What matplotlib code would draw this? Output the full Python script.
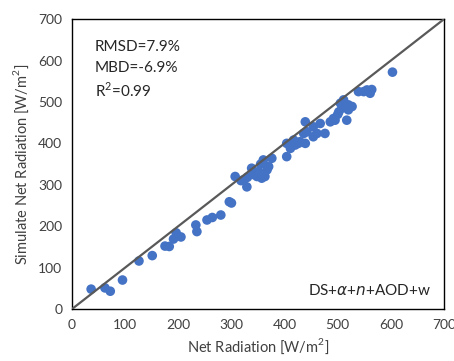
import matplotlib
matplotlib.use("Agg")
import matplotlib.pyplot as plt

# Measured vs simulated net radiation (W/m^2)
measured = [36, 62, 72, 95, 126, 151, 175, 183, 191, 196, 205, 233, 235, 254, 264,
            280, 296, 300, 307, 323, 329, 338, 348, 351, 360, 363, 370, 376, 367,
            357, 345, 330, 318, 355, 340, 404, 411, 420, 429, 436, 439, 439, 454,
            461, 467, 476, 486, 495, 502, 505, 511, 517, 520, 527, 539, 555, 549,
            561, 564, 603, 404, 417, 426, 442, 454, 492, 508, 520, 510, 500]
simulated = [48, 51, 43, 70, 116, 129, 152, 151, 169, 184, 174, 203, 187, 215, 221,
             227, 259, 256, 320, 312, 295, 340, 320, 332, 360, 320, 344, 364, 336,
             316, 328, 318, 310, 350, 325, 368, 388, 396, 404, 424, 400, 452, 440,
             424, 448, 424, 452, 456, 476, 497, 505, 456, 481, 489, 525, 529, 525,
             521, 530, 572, 400, 408, 400, 428, 416, 460, 485, 493, 490, 470]

ticks = [0, 100, 200, 300, 400, 500, 600, 700]
stats_lines = ["RMSD=7.9%", "MBD=-6.9%", "R$^2$=0.99"]
model_label = r"DS+$\alpha$+$n$+AOD+w"

plt.rcParams["font.family"] = ["Lato", "DejaVu Sans"]
plt.rcParams["mathtext.fontset"] = "custom"
plt.rcParams["mathtext.rm"] = "Lato"

fig = plt.figure(figsize=(4.54, 3.61), dpi=100)
ax = fig.add_axes([0.1586, 0.144, 0.8194, 0.803])

ax.plot([0, 700], [0, 700], color="#595959", lw=1.6, zorder=3)
ax.scatter(measured, simulated, s=48, color="#4472C4", edgecolors="none", zorder=2)

ax.set_xlim(0, 700)
ax.set_ylim(0, 700)
ax.set_xticks(ticks)
ax.set_yticks(ticks)
ax.tick_params(length=0, labelsize=10, colors="#404040", pad=7)
for s in ax.spines.values():
    s.set_color("black")
    s.set_linewidth(1.0)

ax.set_xlabel("Net Radiation [W/m$^2$]", fontsize=10.5, color="#404040", labelpad=4)
ax.set_ylabel("Simulate Net Radiation [W/m$^2$]", fontsize=10.5, color="#404040", labelpad=5)

for i, line in enumerate(stats_lines):
    ax.text(0.062, 0.905 - i * 0.075, line, transform=ax.transAxes,
            fontsize=11, color="#262626", va="center", ha="left")
ax.text(0.965, 0.065, model_label, transform=ax.transAxes,
        fontsize=11, color="#262626", va="center", ha="right")

fig.savefig("out.png", dpi=100)
